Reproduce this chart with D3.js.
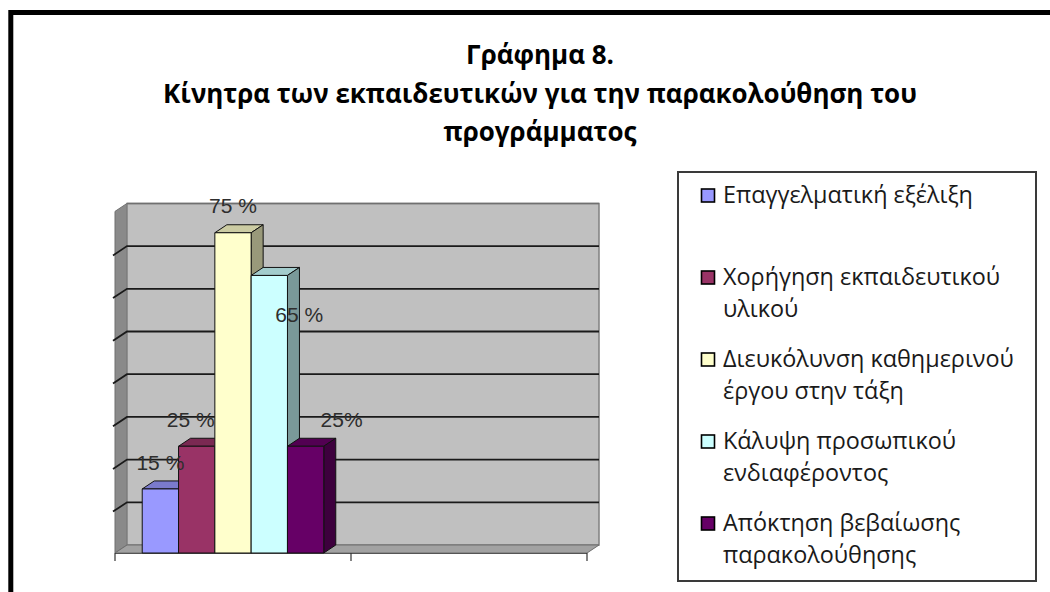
<!DOCTYPE html>
<html><head><meta charset="utf-8">
<script src="https://cdn.jsdelivr.net/npm/d3@7"></script>
<style>html,body{margin:0;padding:0;background:#fff;overflow:hidden}</style>
</head><body><svg id="c" width="1050" height="592"></svg>
<script>
// ---- data ----
const categories = ["Κίνητρα", ""];
const series = ["Επαγγελματική εξέλιξη", "Χορήγηση εκπαιδευτικού υλικού", "Διευκόλυνση καθημερινού έργου στην τάξη", "Κάλυψη προσωπικού ενδιαφέροντος", "Απόκτηση βεβαίωσης παρακολούθησης"];
const legendLines = [["Επαγγελματική εξέλιξη"], ["Χορήγηση εκπαιδευτικού", "υλικού"], ["Διευκόλυνση καθημερινού", "έργου στην τάξη"], ["Κάλυψη προσωπικού", "ενδιαφέροντος"], ["Απόκτηση βεβαίωσης", "παρακολούθησης"]];
const values = [15, 25, 75, 65, 25];
const valueLabels = ["15 %", "25 %", "75 %", "65 %", "25%"];
const yTicks = [0, 10, 20, 30, 40, 50, 60, 70, 80];
const titleLines = ["Γράφημα 8.", "Κίνητρα των εκπαιδευτικών για την παρακολούθηση του", "προγράμματος"];

// ---- styles / layout ----
const colors = ["#9999FF", "#993366", "#FFFFCC", "#CCFFFF", "#660066"];
const labelNudge = [[0, 0], [-6, 0], [0, -1], [30, 66], [36, 0]];
const depth = {dx: 12, dy: -8};

const svg = d3.select("#c");
const x = d3.scaleBand().domain(categories).range([115, 587]);
const x1 = d3.scaleBand().domain(series).range([0, x.bandwidth()]).paddingInner(0).paddingOuter(0.75);
const y = d3.scaleLinear().domain([0, 80]).range([553, 211.4]);

const shade = (c, k) => { const r = d3.rgb(c); return d3.rgb(r.r * k, r.g * k, r.b * k).formatHex(); };
const poly = pts => pts.map(p => p.join(",")).join(" ");

// outer frame
svg.append("rect").attr("x", 10.8).attr("y", 12.5).attr("width", 1200).attr("height", 800)
  .attr("fill", "none").attr("stroke", "#000").attr("stroke-width", 5);

// title
const title = svg.append("g").attr("font-family", "'Open Sans', 'Noto Sans', sans-serif").attr("font-weight", "bold").attr("fill", "#000");
const tBase = [64, 103, 141];
const tl = title.selectAll("text").data(titleLines).join("text")
  .attr("x", 540).attr("y", (d, i) => tBase[i]).attr("text-anchor", "middle").attr("font-size", 24).text(d => d);
{ const w = tl.nodes()[1].getComputedTextLength(); const fs = 24 * 754 / w; tl.attr("font-size", fs); }

// walls
const x0 = x.range()[0], xEnd = x.range()[1];
const yB = y(0), yT = y(80);
const D = depth;
svg.append("polygon").attr("points", poly([[x0, yB], [x0, yT], [x0 + D.dx, yT + D.dy], [x0 + D.dx, yB + D.dy]]))
  .attr("fill", "#8a8a8a").attr("stroke", "#6e6e6e").attr("stroke-width", 1);
svg.append("polygon").attr("points", poly([[x0 + D.dx, yT + D.dy], [xEnd + D.dx, yT + D.dy], [xEnd + D.dx, yB + D.dy], [x0 + D.dx, yB + D.dy]]))
  .attr("fill", "#C0C0C0").attr("stroke", "#808080").attr("stroke-width", 1.5);
svg.append("polygon").attr("points", poly([[x0, yB], [xEnd, yB], [xEnd + D.dx, yB + D.dy], [x0 + D.dx, yB + D.dy]]))
  .attr("fill", "#a2a2a2").attr("stroke", "#6e6e6e").attr("stroke-width", 1);

// gridlines
const grid = svg.append("g").attr("stroke", "#1a1a1a").attr("stroke-width", 1.8).attr("fill", "none");
yTicks.filter(t => t > 0 && t < 80).forEach(t => {
  grid.append("polyline").attr("points", poly([[x0 - 2, y(t) + 1.3], [x0 + D.dx, y(t) + D.dy], [xEnd + D.dx, y(t) + D.dy]]));
});
grid.append("line").attr("x1", x0 + D.dx).attr("x2", xEnd + D.dx).attr("y1", yT + D.dy).attr("y2", yT + D.dy).attr("stroke", "#707070").attr("stroke-width", 1.5);

// x axis line and ticks (between categories)
const ax = svg.append("g").attr("stroke", "#333").attr("stroke-width", 1.2);
ax.append("line").attr("x1", x0).attr("x2", xEnd).attr("y1", yB + 0.5).attr("y2", yB + 0.5).attr("stroke", "#555");
const tickXs = categories.map(c => x(c)).concat([x(categories[categories.length - 1]) + x.bandwidth()]);
tickXs.forEach(tx => ax.append("line").attr("x1", tx).attr("x2", tx).attr("y1", yB).attr("y2", yB + 8));

// bars
const bars = svg.append("g");
values.forEach((v, i) => {
  const bx = x(categories[0]) + x1(series[i]);
  const bw = x1.bandwidth();
  const top = y(v), bot = y(0);
  const g = bars.append("g").attr("stroke", "#111").attr("stroke-width", 1).attr("stroke-linejoin", "round");
  g.append("polygon").attr("points", poly([[bx, top], [bx + D.dx, top + D.dy], [bx + bw + D.dx, top + D.dy], [bx + bw, top]])).attr("fill", shade(colors[i], 0.8));
  g.append("polygon").attr("points", poly([[bx + bw, top], [bx + bw + D.dx, top + D.dy], [bx + bw + D.dx, bot + D.dy], [bx + bw, bot]])).attr("fill", shade(colors[i], 0.6));
  g.append("rect").attr("x", bx).attr("y", top).attr("width", bw).attr("height", bot - top).attr("fill", colors[i]);
});

// value labels
const lab = svg.append("g").attr("font-family", "'Liberation Sans', Arial, sans-serif").attr("font-size", 21).attr("fill", "#2e2e2e");
values.forEach((v, i) => {
  const cx = x(categories[0]) + x1(series[i]) + x1.bandwidth() / 2;
  lab.append("text").attr("x", cx + labelNudge[i][0]).attr("y", y(v) - 19 + labelNudge[i][1])
    .attr("text-anchor", "middle").text(valueLabels[i]);
});

// legend
svg.append("rect").attr("x", 678).attr("y", 172).attr("width", 358).attr("height", 409)
  .attr("fill", "#fff").attr("stroke", "#3a3a3a").attr("stroke-width", 2);
const leg = svg.append("g").attr("font-family", "'Open Sans', 'Noto Sans', sans-serif").attr("fill", "#1a1a1a");
const lt = [];
legendLines.forEach((lines, i) => {
  const by = 203 + i * 82;
  leg.append("rect").attr("x", 701.5).attr("y", by - 14).attr("width", 13).attr("height", 13)
    .attr("fill", colors[i]).attr("stroke", "#000").attr("stroke-width", 1.6);
  lines.forEach((s, j) => {
    lt.push(leg.append("text").attr("x", 723).attr("y", by + j * 32).attr("font-size", 20).text(s));
  });
});
{ const w = lt[0].node().getComputedTextLength(); const fs = 20 * 250 / w; lt.forEach(t => t.attr("font-size", fs)); }
</script></body></html>
